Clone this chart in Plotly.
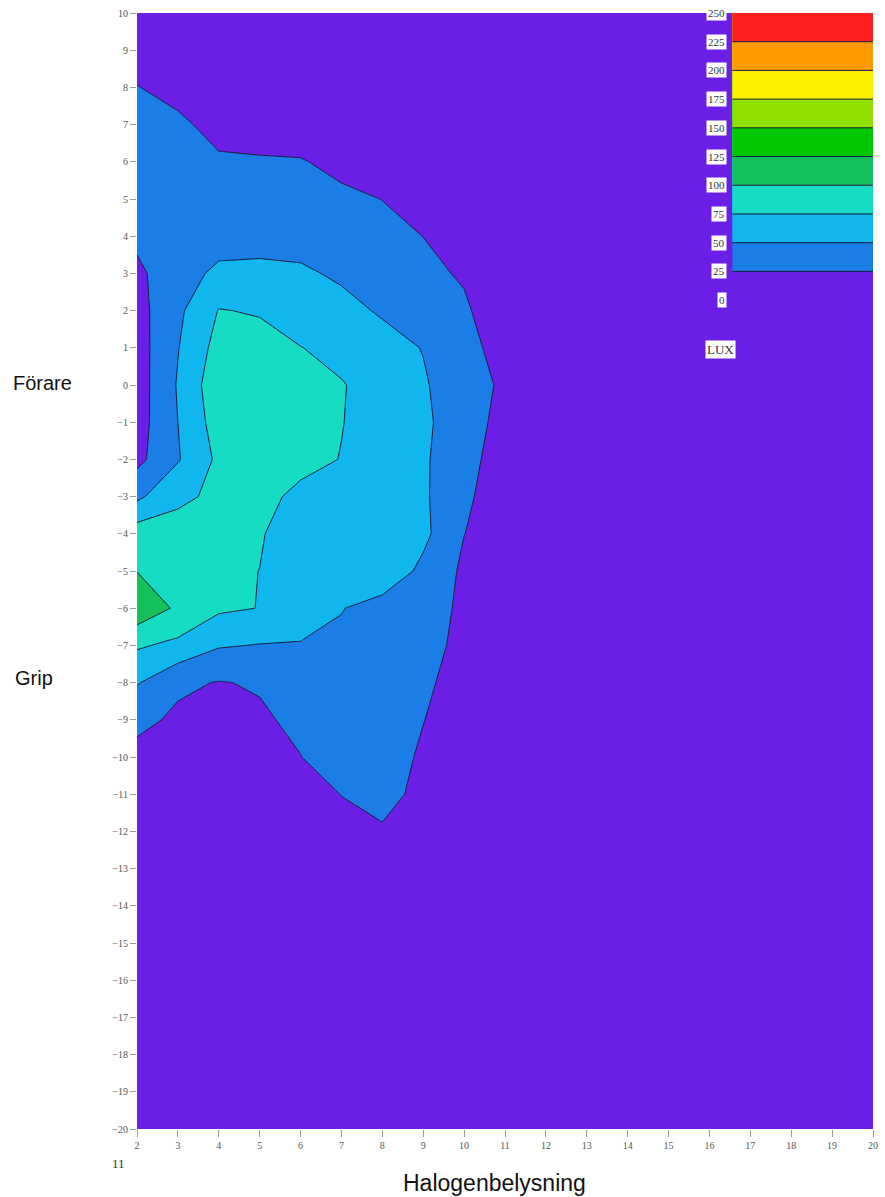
import plotly.graph_objects as go

# Measurement grid: columns (x) and rows (y) of the lux survey
x_pos = [2, 3, 4, 5, 6, 7, 8, 9, 10, 11, 12, 14, 16, 18, 20]
y_pos = [10, 9, 8, 7, 6, 5, 4, 3, 2, 1, 0, -1, -2, -3, -4, -5, -6, -7, -8, -9,
         -10, -11, -12, -13, -14, -16, -18, -20]

# Illuminance (lux), one row per y position, top to bottom
lux = [
    [14, 13, 12, 11, 10, 9, 8, 8, 7, 6, 6, 5, 5, 4, 4],
    [18, 16, 14, 12, 11, 10, 9, 9, 8, 7, 6, 6, 5, 5, 4],
    [25.5, 20, 17, 15, 13, 12, 11, 10, 9, 8, 7, 6, 5, 5, 4],
    [34, 28, 20, 18, 17, 15, 14, 12, 11, 9, 8, 7, 6, 5, 5],
    [36, 33, 27, 26.5, 26, 21, 18, 15, 12, 10, 9, 7, 6, 5, 5],
    [34, 36, 36, 35, 33, 28, 24.8, 20, 16, 11, 9, 8, 6, 6, 5],
    [30, 36, 40, 41, 40, 36, 29, 24.9, 19, 12, 10, 8, 7, 6, 5],
    [20, 40, 55, 56, 54, 46, 38, 28, 23.6, 14, 11, 9, 7, 6, 5],
    [16, 45, 76, 73, 66, 58, 47, 36, 27, 16, 12, 9, 7, 6, 5],
    [14, 49, 84, 84, 75.4, 70, 60, 49, 30, 19, 13, 10, 8, 6, 5],
    [13, 52, 92, 92, 88, 76, 68, 53, 33, 22, 14, 10, 8, 6, 5],
    [14, 50, 87, 90, 87, 75.5, 68, 56, 32, 20, 13, 10, 8, 6, 5],
    [18, 48, 80, 85, 80, 74.5, 64, 54, 30, 18, 12, 9, 7, 6, 5],
    [45, 70, 80, 80, 71, 66, 60, 54, 28, 16, 12, 9, 7, 6, 5],
    [88, 85, 82, 77, 62, 60, 58, 56, 25.3, 14, 11, 9, 7, 6, 5],
    [99.5, 90, 80, 74.8, 73, 71, 68, 44, 20.8, 14, 11, 8, 7, 6, 5],
    [118, 96, 79, 74.5, 62, 51, 40, 37.2, 20, 14, 10, 8, 7, 6, 5],
    [78, 69.4, 52, 49, 48.5, 45, 40, 34.3, 18, 13, 10, 8, 6, 6, 5],
    [52, 29, 24, 26.9, 31, 35, 35, 29, 16, 12, 9, 8, 6, 5, 5],
    [31, 21, 19, 22, 29.5, 34, 33, 25.5, 14, 11, 9, 7, 6, 5, 5],
    [18, 16, 15, 18, 24.6, 38, 35, 22, 13, 10, 8, 7, 6, 5, 4],
    [14, 13, 13, 15, 18, 25.3, 31, 20, 12, 9, 8, 7, 6, 5, 4],
    [12, 11, 11, 12, 14, 20, 23, 17, 11, 8, 7, 6, 5, 5, 4],
    [10, 10, 10, 10, 11, 13, 14, 13, 10, 8, 7, 6, 5, 4, 4],
    [9, 9, 9, 9, 10, 11, 11, 10, 9, 7, 6, 6, 5, 4, 4],
    [8, 8, 8, 8, 8, 9, 9, 8, 7, 6, 6, 5, 4, 4, 3],
    [7, 7, 7, 7, 7, 7, 7, 7, 6, 6, 5, 5, 4, 4, 3],
    [6, 6, 6, 6, 6, 6, 6, 6, 5, 5, 5, 4, 4, 3, 3],
]

# Key levels (lux) and axis ticks
legend_levels = [0, 25, 50, 75, 100, 125, 150, 175, 200, 225, 250]
x_ticks = [2, 3, 4, 5, 6, 7, 8, 9, 10, 11, 12, 13, 14, 15, 16, 17, 18, 19, 20]
y_ticks = [10, 9, 8, 7, 6, 5, 4, 3, 2, 1, 0, -1, -2, -3, -4, -5, -6, -7, -8, -9,
           -10, -11, -12, -13, -14, -15, -16, -17, -18, -19, -20]

# One colour per 25-lux band: below 25, 25-50, ..., 225-250, above 250
band_colors = ['#6a1ee6', '#1a7ee6', '#10b6ee', '#16dcc4', '#14c05a', '#00c800',
               '#90e000', '#fff000', '#ff9a00', '#ff2020', '#ff2020']
colorscale = []
n = len(band_colors)
for i, c in enumerate(band_colors):
    lo = max(0.0, (i - 0.5) / (n - 1))
    hi = min(1.0, (i + 0.5) / (n - 1))
    colorscale.append([lo, c])
    colorscale.append([hi, c])

contour_spec = dict(start=25, end=250, size=25, coloring='fill', showlines=True)
line_spec = dict(color='#1c1c3c', width=1, smoothing=0)

fig = go.Figure()

fig.add_trace(go.Contour(
    x=x_pos, y=y_pos[::-1], z=lux[::-1],
    autocontour=False, contours=contour_spec, line=line_spec,
    colorscale=colorscale, showscale=False, hoverinfo='skip',
))

# Colour key: a vertical ramp through the same levels
fig.add_trace(go.Contour(
    x=[0, 1], y=legend_levels, z=[[v, v] for v in legend_levels],
    autocontour=False, contours=contour_spec, line=line_spec,
    colorscale=colorscale, showscale=False, hoverinfo='skip',
    xaxis='x2', yaxis='y2',
))

serif = 'Liberation Serif'
sans = 'Liberation Sans'

annotations = []
for v in legend_levels:
    annotations.append(dict(
        x=-0.04, y=v, xref='x2', yref='y2', text=str(v), showarrow=False,
        xanchor='right', yanchor='middle', bgcolor='white', borderpad=1,
        font=dict(family=serif, size=11, color='#333'),
    ))
annotations.append(dict(
    x=-0.08, y=-43, xref='x2', yref='y2', text='LUX', showarrow=False,
    xanchor='center', yanchor='middle', bgcolor='white', borderpad=1,
    font=dict(family=serif, size=13, color='#333'),
))
annotations += [
    dict(x=-0.1714, y=0.6685, xref='paper', yref='paper', text='Förare',
         showarrow=False, xanchor='left', yanchor='middle',
         font=dict(family=sans, size=20, color='#111')),
    dict(x=-0.1687, y=0.4041, xref='paper', yref='paper', text='Grip',
         showarrow=False, xanchor='left', yanchor='middle',
         font=dict(family=sans, size=20, color='#111')),
    dict(x=0.4858, y=-0.0484, xref='paper', yref='paper', text='Halogenbelysning',
         showarrow=False, xanchor='center', yanchor='middle',
         font=dict(family=sans, size=23, color='#111')),
    dict(x=-0.0256, y=-0.0305, xref='paper', yref='paper', text='11',
         showarrow=False, xanchor='center', yanchor='middle',
         font=dict(family=serif, size=13, color='#333')),
]

tick_font = dict(family=serif, size=10, color='#555')

fig.update_layout(
    width=885, height=1197,
    margin=dict(l=137, r=7, t=13, b=68),
    paper_bgcolor='white', plot_bgcolor='rgba(0,0,0,0)',
    showlegend=False,
    xaxis=dict(range=[2, 20], tickmode='array', tickvals=x_ticks,
               ticks='outside', ticklen=7, tickcolor='#999', tickfont=tick_font,
               showgrid=False, zeroline=False, showline=False),
    yaxis=dict(range=[-20, 10], tickmode='array', tickvals=y_ticks,
               ticks='outside', ticklen=6, tickcolor='#999', tickfont=tick_font,
               showgrid=False, zeroline=False, showline=False),
    # key axes span the labels to the left of the bars and LUX below them
    xaxis2=dict(domain=[0.78, 1.0], range=[-0.15, 1], visible=False, anchor='y2'),
    yaxis2=dict(domain=[0.681, 1.0], range=[-60, 250], visible=False, anchor='x2'),
    annotations=annotations,
)

fig.write_html("out.html")
